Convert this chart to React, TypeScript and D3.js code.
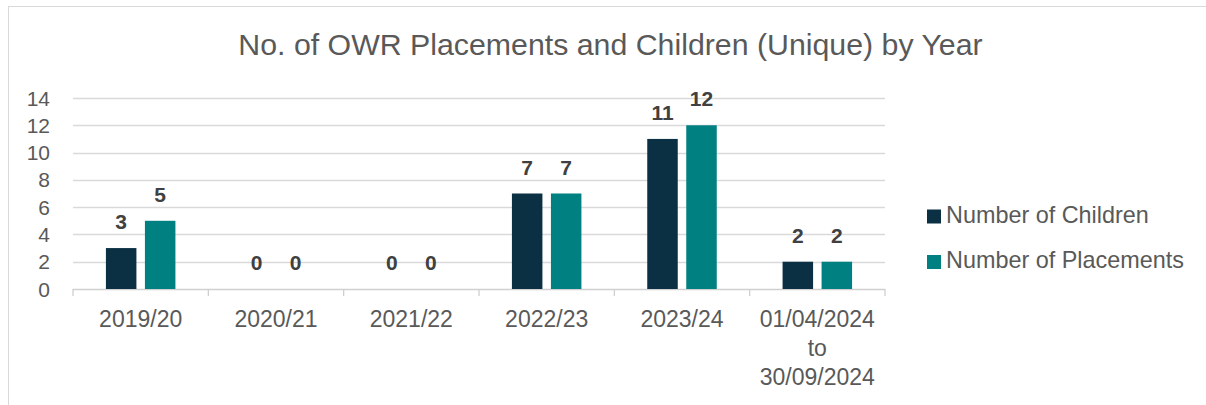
import React from "react";
import * as d3 from "d3";

const categories = ["2019/20", "2020/21", "2021/22", "2022/23", "2023/24", "01/04/2024\nto\n30/09/2024"];
const seriesNames = ["Number of Children", "Number of Placements"];
const children = [3, 0, 0, 7, 11, 2];
const placements = [5, 0, 0, 7, 12, 2];
const yTicks = [0, 2, 4, 6, 8, 10, 12, 14];
const colors = ["#0B3043", "#008080"];

const W = 1206;
const H = 405;
const FONT = "'Liberation Sans', Arial, sans-serif";

export default function App() {
  const x = d3.scaleBand<string>().domain(categories).range([73, 885]).paddingInner(0).paddingOuter(0);
  const y = d3.scaleLinear().domain([0, 14]).range([289, 98]);
  const series = [children, placements];
  const barW = 30.5;
  const gap = 8.5;
  return (
    <svg width={W} height={H} style={{ position: "absolute", left: 0, top: 0 }} fontFamily={FONT}>
      <rect x={0} y={0} width={W} height={H} fill="#fff" />
      <rect x={8.5} y={6.5} width={W} height={H} fill="none" stroke="#d9d9d9" strokeWidth={1} />
      <text x={610.5} y={55} textAnchor="middle" fontSize={30.3} fill="#595959">
        No. of OWR Placements and Children (Unique) by Year
      </text>
      {yTicks.map((t) => (
        <g key={t}>
          {t > 0 && (
            <line x1={73} x2={885} y1={Math.round(y(t)) + 0.5} y2={Math.round(y(t)) + 0.5} stroke="#d9d9d9" strokeWidth={1.3} />
          )}
          <text x={50} y={y(t) + 7.5} textAnchor="end" fontSize={21} fill="#595959">
            {t}
          </text>
        </g>
      ))}
      <line x1={73} x2={885} y1={289.5} y2={289.5} stroke="#d0d0d0" strokeWidth={1.3} />
      {d3.range(categories.length + 1).map((i) => {
        const xx = 73 + i * x.bandwidth();
        return <line key={i} x1={xx} x2={xx} y1={289} y2={296} stroke="#d0d0d0" strokeWidth={1.3} />;
      })}
      {categories.map((c, i) => {
        const cx = (x(c) as number) + x.bandwidth() / 2;
        return (
          <g key={c}>
            {series.map((s, j) => {
              const bx = j === 0 ? cx - gap / 2 - barW : cx + gap / 2;
              const v = s[i];
              return (
                <g key={j}>
                  <rect x={bx} y={y(v)} width={barW} height={y(0) - y(v)} fill={colors[j]} />
                  <text x={bx + barW / 2} y={y(v) - 18.8} textAnchor="middle" fontSize={21} fontWeight="bold" fill="#404040">
                    {v}
                  </text>
                </g>
              );
            })}
            {c.split("\n").map((line, k) => (
              <text key={k} x={cx} y={327 + k * 29} textAnchor="middle" fontSize={23} fill="#595959">
                {line}
              </text>
            ))}
          </g>
        );
      })}
      {seriesNames.map((n, j) => (
        <g key={n}>
          <rect x={927} y={209.5 + j * 45.5} width={14} height={14} fill={colors[j]} />
          <text x={946} y={223.3 + j * 45} fontSize={23.4} fill="#595959">
            {n}
          </text>
        </g>
      ))}
    </svg>
  );
}
